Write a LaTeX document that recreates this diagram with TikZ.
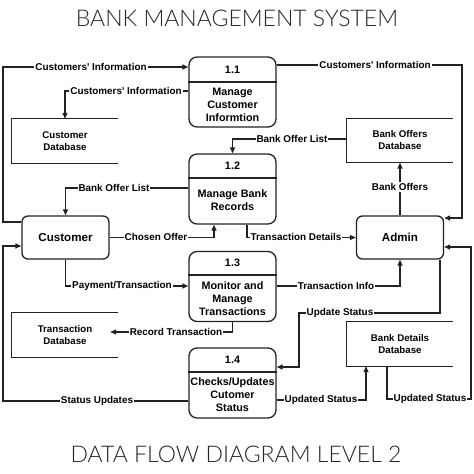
\documentclass[tikz,border=0pt]{standalone}
\usepackage{fontspec}
\setmainfont{Liberation Sans}
\newfontfamily\titlefont{Lato Light}
\usetikzlibrary{arrows.meta,calc}
\definecolor{ink}{HTML}{222222}
\tikzset{
  proc/.style={draw=ink, rounded corners=8pt, minimum width=87pt, minimum height=70pt, line width=1.3pt, inner sep=0pt},
  ent/.style={draw=ink, rounded corners=6pt, minimum width=87pt, minimum height=43pt, line width=1.3pt, font=\bfseries\fontsize{11.6}{13}\selectfont},
  store/.style={minimum width=106pt, minimum height=44pt, inner sep=0pt, align=center, font=\bfseries\fontsize{9.7}{12}\selectfont},
  storeline/.style={draw=ink, line width=1.3pt},
  divline/.style={draw=ink, line width=1.3pt},
  ptext/.style={font=\bfseries\fontsize{10.8}{13}\selectfont, align=center, inner sep=0pt},
  lbl/.style={fill=white, font=\bfseries\fontsize{9.9}{11}\selectfont, inner sep=1pt},
  flow/.style={draw=ink, line width=1.2pt, -{Triangle[length=6pt,width=5pt]}},
  ttl/.style={font=\titlefont\fontsize{23}{26}\selectfont, text=black!85},
}
\begin{document}
\begin{tikzpicture}[x=1pt, y=-1pt]
\useasboundingbox[fill=white] (0,0) rectangle (474,474);

% titles
\node[ttl] (title) at (237,18) {BANK MANAGEMENT SYSTEM};
\node[ttl] (subtitle) at (236,454) {DATA FLOW DIAGRAM LEVEL 2};

% processes
\node[proc] (p11) at (232.5,92) {};
\draw[divline] (p11.west |- 0,82) -- (p11.east |- 0,82);
\node[ptext] (n11) at (232.5,69.5) {1.1};
\node[ptext] (t11) at (232.5,104.5) {Manage\\Customer\\Informtion};

\node[proc] (p12) at (232.5,189) {};
\draw[divline] (p12.west |- 0,178) -- (p12.east |- 0,178);
\node[ptext] (n12) at (232.5,166) {1.2};
\node[ptext] (t12) at (232.5,200.5) {Manage Bank\\Records};

\node[proc] (p13) at (232.5,286.5) {};
\draw[divline] (p13.west |- 0,275) -- (p13.east |- 0,275);
\node[ptext] (n13) at (232.5,263) {1.3};
\node[ptext] (t13) at (232.5,298.5) {Monitor and\\Manage\\Transactions};

\node[proc] (p14) at (232.5,383) {};
\draw[divline] (p14.west |- 0,372) -- (p14.east |- 0,372);
\node[ptext] (n14) at (232.5,360) {1.4};
\node[ptext] (t14) at (232.5,395) {Checks/Updates\\Cutomer\\Status};

% entities
\node[ent] (cust) at (65.5,237.5) {Customer};
\node[ent] (adm) at (400,237.5) {Admin};

% data stores
\node[store] (cdb) at (65,141) {Customer\\Database};
\draw[storeline] (cdb.north east) -- (cdb.north west) -- (cdb.south west) -- (cdb.south east);
\node[store] (bodb) at (400,140.5) {Bank Offers\\Database};
\draw[storeline] (bodb.north east) -- (bodb.north west) -- (bodb.south west) -- (bodb.south east);
\node[store] (tdb) at (65,335) {Transaction\\Database};
\draw[storeline] (tdb.north east) -- (tdb.north west) -- (tdb.south west) -- (tdb.south east);
\node[store] (bddb) at (400,344) {Bank Details\\Database};
\draw[storeline] (bddb.north east) -- (bddb.north west) -- (bddb.south west) -- (bddb.south east);

% flows
\draw[flow] (cust.west |- 0,222) -- (3,222) -- (3,67) -- (p11.west |- 0,67);
\draw[flow] (p11.west |- 0,91) -| (cdb.north);
\draw[flow] (p11.east |- 0,65) -- (462,65) |- (adm.east |- 0,218);
\draw[flow] (bodb.west |- 0,139) -| (p12.north);
\draw[flow] (p12.west |- 0,188) -| (cust.north);
\draw[flow] (cust.east) -| (p12.south -| 214,0);
\draw[flow] (p12.south -| 247,0) |- (adm.west);
\draw[flow] (adm.north) -- (bodb.south);
\draw[flow] (cust.south) |- (p13.west |- 0,286);
\draw[flow] (p13.east |- 0,286) -| (adm.south);
\draw[flow] (p13.south) |- ([xshift=-8pt]tdb.east |- 0,332);
\draw[flow] (adm.south -| 440,0) -- (440,313) -- (299,313) -- (299,367) -- (p14.east |- 0,367);
\draw[flow] (p14.east |- 0,400) -| (bddb.south -| 366,0);
\draw[flow] (bddb.south -| 387,0) |- (471,399) |- (adm.east |- 0,247);
\draw[flow] (p14.west |- 0,401) -- (3,401) |- (cust.west |- 0,246);

% labels
\node[lbl] (l1) at (91,67) {Customers\textquotesingle{} Information};
\node[lbl] (l2) at (126,91) {Customers\textquotesingle{} Information};
\node[lbl] (l3) at (375,65) {Customers\textquotesingle{} Information};
\node[lbl] (l4) at (292,139) {Bank Offer List};
\node[lbl] (l5) at (114,188) {Bank Offer List};
\node[lbl] (l6) at (156,237) {Chosen Offer};
\node[lbl] (l7) at (296,237) {Transaction Details};
\node[lbl] (l8) at (400,187) {Bank Offers};
\node[lbl] (l9) at (122,286) {Payment/Transaction};
\node[lbl] (l10) at (336,286) {Transaction Info};
\node[lbl] (l11) at (176,332) {Record Transaction};
\node[lbl] (l12) at (340,313) {Update Status};
\node[lbl] (l13) at (321,400) {Updated Status};
\node[lbl] (l14) at (430,399) {Updated Status};
\node[lbl] (l15) at (97,401) {Status Updates};
\end{tikzpicture}
\end{document}
